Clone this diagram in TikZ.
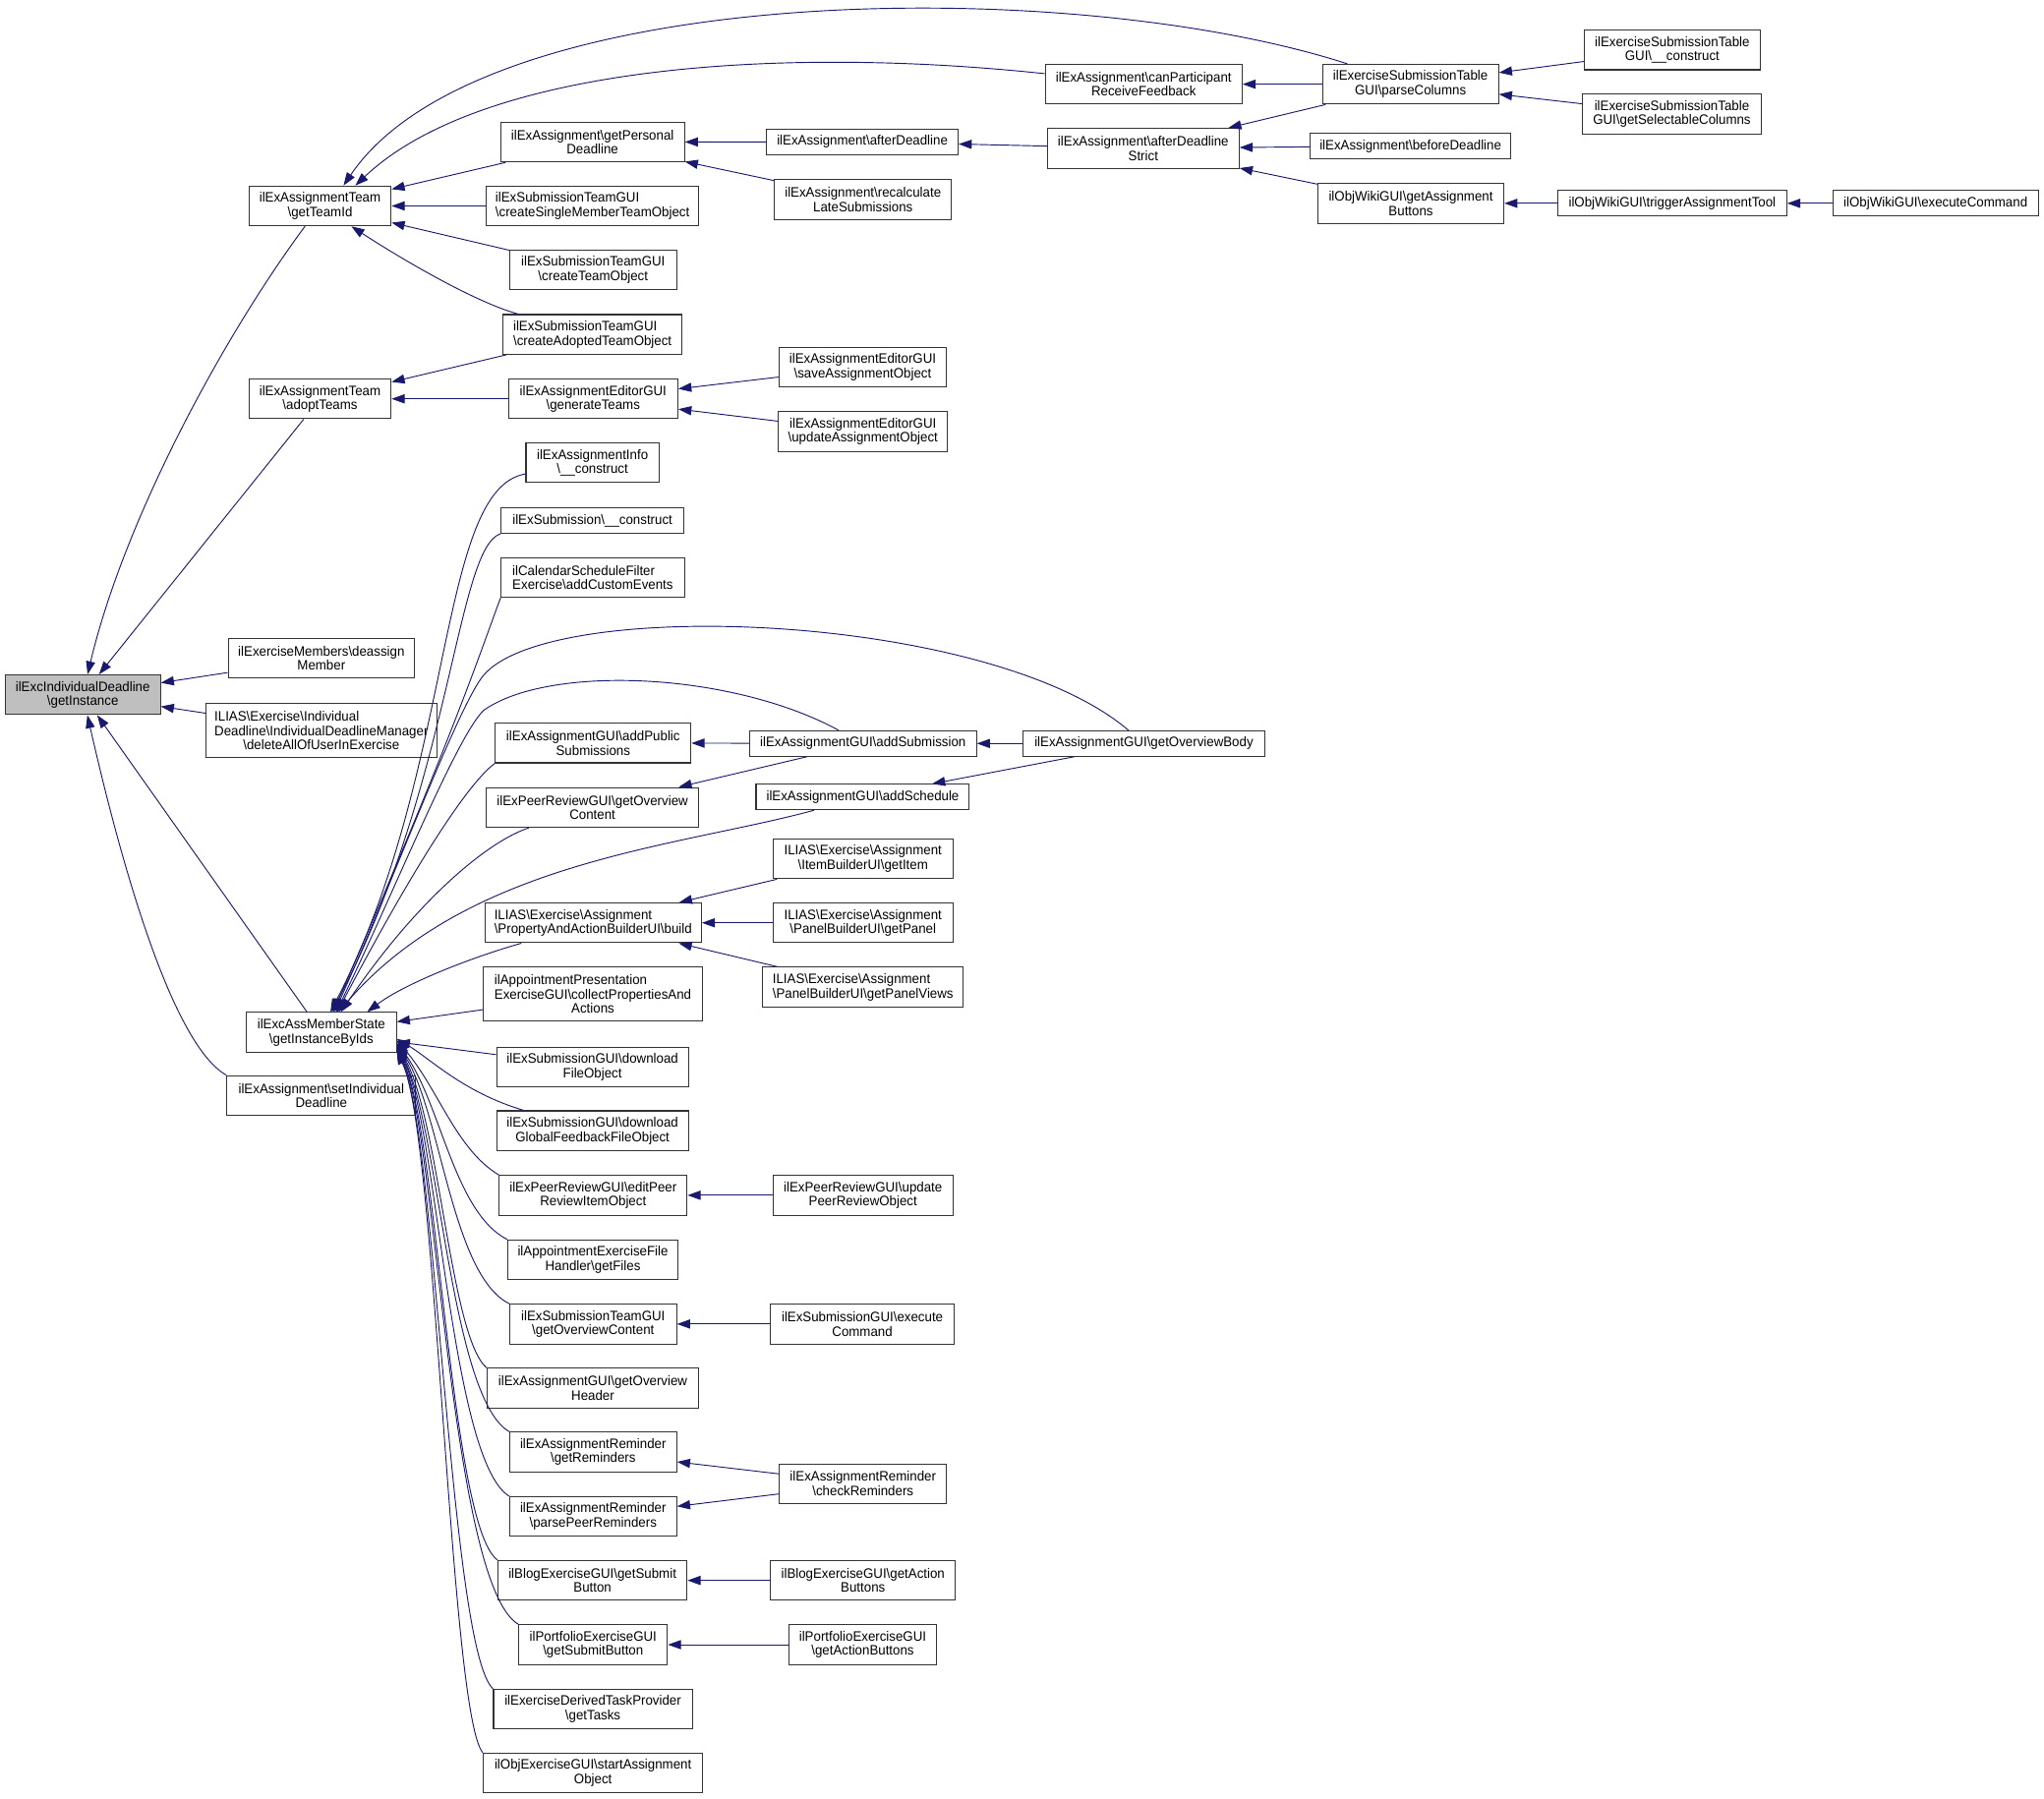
\documentclass[tikz,border=0pt]{standalone}
\usepackage{fontspec}
\setmainfont{Liberation Sans}[FakeStretch=0.955]
\usetikzlibrary{arrows.meta}
\definecolor{edgeblue}{HTML}{191970}
\definecolor{rootgray}{HTML}{BFBFBF}
\begin{document}
\begin{tikzpicture}[x=1pt, y=-1pt,
  fn/.style={draw=black!80, fill=white, line width=0.8pt, font=\fontsize{10.5}{11}\selectfont,
    align=center, inner xsep=2pt, inner ysep=1pt},
  one/.style={fn, minimum height=19.5pt},
  two/.style={fn, minimum height=30.5pt},
  three/.style={fn, minimum height=41.5pt},
  call/.style={draw=edgeblue, line width=0.7pt, -{Triangle[length=10pt, width=7pt]}}]
  \path[use as bounding box, fill=white] (0,0) rectangle (1568,1380);

  \node[two, fill=rootgray, minimum width=119pt] (gi) at (63.5,533) {ilExcIndividualDeadline\\\textbackslash getInstance};

  \node[two, minimum width=109pt] (teamid)   at (245.5,158)   {ilExAssignmentTeam\\\textbackslash getTeamId};
  \node[two, minimum width=109pt] (adopt)    at (245.5,306)   {ilExAssignmentTeam\\\textbackslash adoptTeams};
  \node[two, minimum width=143pt] (deassign) at (246.5,505)   {ilExerciseMembers\textbackslash deassign\\Member};
  \node[three, minimum width=177pt] (delall) at (246.5,560.5) {\rlap{ILIAS\textbackslash Exercise\textbackslash Individual}\phantom{Deadline\textbackslash IndividualDeadlineManager}\\Deadline\textbackslash IndividualDeadlineManager\\\textbackslash deleteAllOfUserInExercise};
  \node[two, minimum width=115pt] (byids)    at (246.5,792)   {ilExcAssMemberState\\\textbackslash getInstanceByIds};
  \node[two, minimum width=145pt] (setind)   at (246.5,840.5) {ilExAssignment\textbackslash setIndividual\\Deadline};

  \node[two, minimum width=141pt] (persdl)   at (454.5,109)   {ilExAssignment\textbackslash getPersonal\\Deadline};
  \node[two, align=left, minimum width=163pt] (single) at (454.5,158) {ilExSubmissionTeamGUI\\\textbackslash createSingleMemberTeamObject};
  \node[two, minimum width=128pt] (team)     at (455,207)     {ilExSubmissionTeamGUI\\\textbackslash createTeamObject};
  \node[two, align=left, minimum width=137pt] (adopted) at (454.5,256.6) {ilExSubmissionTeamGUI\\\textbackslash createAdoptedTeamObject};
  \node[two, minimum width=130pt] (gen)      at (455,306)     {ilExAssignmentEditorGUI\\\textbackslash generateTeams};
  \node[two, minimum width=102pt] (info)     at (454.5,355)   {ilExAssignmentInfo\\\textbackslash \_\_construct};
  \node[one, minimum width=140pt] (subcons)  at (454.5,399.3) {ilExSubmission\textbackslash \_\_construct};
  \node[two, align=left, minimum width=140.5pt] (calsched) at (454.7,443) {ilCalendarScheduleFilter\\Exercise\textbackslash addCustomEvents};
  \node[two, minimum width=150pt] (addpub)   at (455,570)     {ilExAssignmentGUI\textbackslash addPublic\\Submissions};
  \node[two, minimum width=163pt] (peerov)   at (454.5,619.5) {ilExPeerReviewGUI\textbackslash getOverview\\Content};
  \node[two, align=left, minimum width=166pt] (build) at (455,708) {ILIAS\textbackslash Exercise\textbackslash Assignment\\\textbackslash PropertyAndActionBuilderUI\textbackslash build};
  \node[three, minimum width=167.6pt] (appres) at (454.8,762.8) {\rlap{ilAppointmentPresentation}\phantom{ExerciseGUI\textbackslash collectPropertiesAnd}\\ExerciseGUI\textbackslash collectPropertiesAnd\\Actions};
  \node[two, minimum width=147pt] (dlfile)   at (454.5,818.5) {ilExSubmissionGUI\textbackslash download\\FileObject};
  \node[two, minimum width=147pt] (dlglobal) at (454.5,867.5) {ilExSubmissionGUI\textbackslash download\\GlobalFeedbackFileObject};
  \node[two, minimum width=144pt] (editpeer) at (455,917)     {ilExPeerReviewGUI\textbackslash editPeer\\ReviewItemObject};
  \node[two, minimum width=130.5pt] (getfiles) at (454.8,966.6) {ilAppointmentExerciseFile\\Handler\textbackslash getFiles};
  \node[two, minimum width=128pt] (teamov)   at (455,1015.8)  {ilExSubmissionTeamGUI\\\textbackslash getOverviewContent};
  \node[two, minimum width=162.3pt] (ovhead) at (454.8,1065)  {ilExAssignmentGUI\textbackslash getOverview\\Header};
  \node[two, minimum width=128pt] (getrem)   at (455,1114)    {ilExAssignmentReminder\\\textbackslash getReminders};
  \node[two, minimum width=128pt] (parsepeer) at (455,1163.5) {ilExAssignmentReminder\\\textbackslash parsePeerReminders};
  \node[two, minimum width=145pt] (blogsub)  at (454.5,1212.5) {ilBlogExerciseGUI\textbackslash getSubmit\\Button};
  \node[two, minimum width=114pt] (portsub)  at (455,1261.8)  {ilPortfolioExerciseGUI\\\textbackslash getSubmitButton};
  \node[two, minimum width=152.4pt] (tasks)  at (454.8,1311.3) {ilExerciseDerivedTaskProvider\\\textbackslash getTasks};
  \node[two, minimum width=168.3pt] (startass) at (454.9,1360.3) {ilObjExerciseGUI\textbackslash startAssignment\\Object};

  \node[one, minimum width=147pt] (afterdl)  at (661.5,108.8) {ilExAssignment\textbackslash afterDeadline};
  \node[two, minimum width=136pt] (recalc)   at (662,153)     {ilExAssignment\textbackslash recalculate\\LateSubmissions};
  \node[two, minimum width=128.5pt] (save)   at (661.8,281.7) {ilExAssignmentEditorGUI\\\textbackslash saveAssignmentObject};
  \node[two, minimum width=130pt] (update)   at (662,331)     {ilExAssignmentEditorGUI\\\textbackslash updateAssignmentObject};
  \node[one, minimum width=174pt] (addsub)   at (662,570.4)   {ilExAssignmentGUI\textbackslash addSubmission};
  \node[one, minimum width=163.6pt] (addsched) at (661.8,611.5) {ilExAssignmentGUI\textbackslash addSchedule};
  \node[two, minimum width=138pt] (getitem)  at (662,658.9)   {ILIAS\textbackslash Exercise\textbackslash Assignment\\\textbackslash ItemBuilderUI\textbackslash getItem};
  \node[two, minimum width=138pt] (getpanel) at (662,708)     {ILIAS\textbackslash Exercise\textbackslash Assignment\\\textbackslash PanelBuilderUI\textbackslash getPanel};
  \node[two, align=left, minimum width=154pt] (panelviews) at (662,757.3) {ILIAS\textbackslash Exercise\textbackslash Assignment\\\textbackslash PanelBuilderUI\textbackslash getPanelViews};
  \node[two, minimum width=138pt] (updpeer)  at (662,917)     {ilExPeerReviewGUI\textbackslash update\\PeerReviewObject};
  \node[two, minimum width=141pt] (subexec)  at (661.5,1015.8) {ilExSubmissionGUI\textbackslash execute\\Command};
  \node[two, minimum width=128pt] (checkrem) at (662,1138.3)  {ilExAssignmentReminder\\\textbackslash checkReminders};
  \node[two, minimum width=142pt] (blogact)  at (662,1212.5)  {ilBlogExerciseGUI\textbackslash getAction\\Buttons};
  \node[two, minimum width=113.6pt] (portact) at (661.8,1261.8) {ilPortfolioExerciseGUI\\\textbackslash getActionButtons};

  \node[two, minimum width=151pt] (canrecv)  at (877.3,64.6)  {ilExAssignment\textbackslash canParticipant\\ReceiveFeedback};
  \node[two, minimum width=147pt] (dlstrict) at (877,113.8)   {ilExAssignment\textbackslash afterDeadline\\Strict};
  \node[one, minimum width=185pt] (ovbody)   at (877.5,570.4) {ilExAssignmentGUI\textbackslash getOverviewBody};

  \node[two, minimum width=135pt] (parsecol) at (1082,64.6)   {ilExerciseSubmissionTable\\GUI\textbackslash parseColumns};
  \node[one, minimum width=154pt] (beforedl) at (1082,112)    {ilExAssignment\textbackslash beforeDeadline};
  \node[two, minimum width=142.7pt] (wikibtn) at (1082.3,156) {ilObjWikiGUI\textbackslash getAssignment\\Buttons};

  \node[two, minimum width=134.5pt] (tblcons) at (1282.8,38.3) {ilExerciseSubmissionTable\\GUI\textbackslash \_\_construct};
  \node[two, minimum width=137pt] (selcols)  at (1282.5,87.5) {ilExerciseSubmissionTable\\GUI\textbackslash getSelectableColumns};
  \node[one, minimum width=175.6pt] (trigger) at (1282.8,156) {ilObjWikiGUI\textbackslash triggerAssignmentTool};
  \node[one, minimum width=157.6pt] (wikiexec) at (1484.8,156) {ilObjWikiGUI\textbackslash executeCommand};

  \draw[call] (teamid) .. controls (170,260) and (95,400) .. (gi);
  \draw[call] (adopt) -- (gi);
  \draw[call] (deassign) -- (gi);
  \draw[call] (delall) -- (gi);
  \draw[call] (byids) -- (gi);
  \draw[call] (setind.north west) .. controls (130,800) and (90,650) .. (gi);

  \draw[call] (persdl) -- (teamid);
  \draw[call] (single) -- (teamid);
  \draw[call] (team) -- (teamid);
  \draw[call] (adopted) .. controls (365,232) and (310,200) .. (teamid);
  \draw[call] (canrecv) .. controls (600,35) and (370,50) .. (teamid.30);
  \draw[call] (parsecol) .. controls (820,-20) and (370,-15) .. (teamid.41);
  \draw[call] (adopted) -- (adopt);
  \draw[call] (gen) -- (adopt);

  \draw[call] (afterdl) -- (persdl);
  \draw[call] (recalc) -- (persdl);
  \draw[call] (dlstrict) -- (afterdl);
  \draw[call] (parsecol) -- (dlstrict);
  \draw[call] (beforedl) -- (dlstrict);
  \draw[call] (wikibtn) -- (dlstrict);
  \draw[call] (parsecol) -- (canrecv);
  \draw[call] (tblcons) -- (parsecol);
  \draw[call] (selcols) -- (parsecol);
  \draw[call] (trigger) -- (wikibtn);
  \draw[call] (wikiexec) -- (trigger);
  \draw[call] (save) -- (gen);
  \draw[call] (update) -- (gen);

  \draw[call] (info) .. controls (335,375) and (350,590) .. (byids.66);
  \draw[call] (subcons.south west) .. controls (350,420) and (347,600) .. (byids.63);
  \draw[call] (calsched.south west) .. controls (372,490) and (350,560) .. (byids.60);
  \draw[call] (ovbody) .. controls (760,470) and (423,457) .. (371,518) .. controls (351.5,541) and (300,680) .. (byids.57);
  \draw[call] (addsub) .. controls (560,515) and (420,510) .. (371,545) .. controls (350,565) and (300,690) .. (byids.54);
  \draw[call] (addpub.south west) .. controls (360,600) and (320,660) .. (byids.52);
  \draw[call] (addsched) .. controls (520,650) and (360,660) .. (byids.50);
  \draw[call] (peerov) .. controls (375,645) and (320,690) .. (byids.46);
  \draw[call] (build) .. controls (360,735) and (310,755) .. (byids.24);
  \draw[call] (appres) -- (byids);
  \draw[call] (dlfile) -- (byids);
  \draw[call] (dlglobal) .. controls (355,838) and (330,812) .. (byids.355);
  \draw[call] (editpeer.north west) .. controls (350,882) and (336,835) .. (byids.354);
  \draw[call] (getfiles.north west) .. controls (348,930) and (338,845) .. (byids.352);
  \draw[call] (teamov.north west) .. controls (346,978) and (338,850) .. (byids.351);
  \draw[call] (ovhead.north west) .. controls (345,1025) and (337,855) .. (byids.350);
  \draw[call] (getrem.north west) .. controls (345,1072) and (337,860) .. (byids.349);
  \draw[call] (parsepeer.north west) .. controls (345,1120) and (336,860) .. (byids.348);
  \draw[call] (blogsub.north west) .. controls (345,1170) and (336,865) .. (byids.347);
  \draw[call] (portsub.north west) .. controls (345,1215) and (335,865) .. (byids.347);
  \draw[call] (tasks.north west) .. controls (345,1265) and (335,870) .. (byids.346);
  \draw[call] (startass.north west) .. controls (345,1315) and (335,870) .. (byids.346);

  \draw[call] (addsub) -- (addpub);
  \draw[call] (addsub) -- (peerov);
  \draw[call] (ovbody) -- (addsub);
  \draw[call] (ovbody) -- (addsched);
  \draw[call] (getitem) -- (build);
  \draw[call] (getpanel) -- (build);
  \draw[call] (panelviews) -- (build);
  \draw[call] (updpeer) -- (editpeer);
  \draw[call] (subexec) -- (teamov);
  \draw[call] (checkrem) -- (getrem);
  \draw[call] (checkrem) -- (parsepeer);
  \draw[call] (blogact) -- (blogsub);
  \draw[call] (portact) -- (portsub);
\end{tikzpicture}
\end{document}
